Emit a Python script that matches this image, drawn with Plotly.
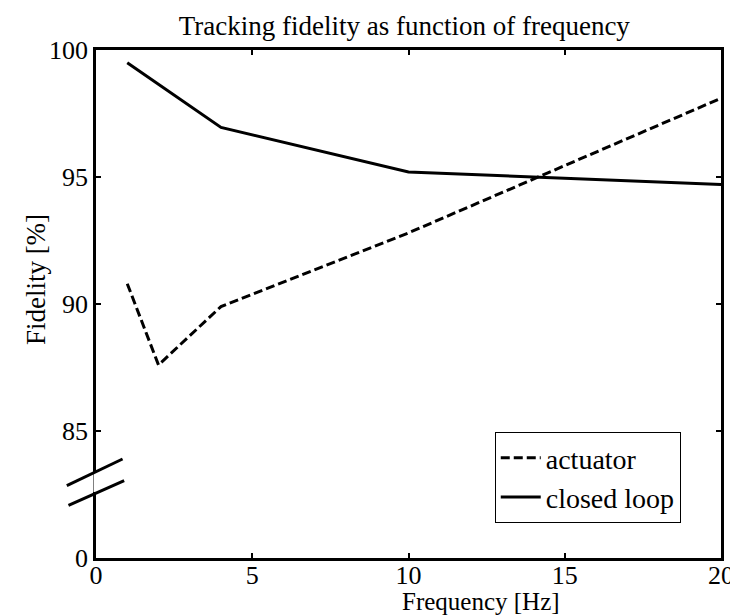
import plotly.graph_objects as go

# ---- data ----
freq = [1, 2, 4, 10, 20]
actuator = [90.8, 87.6, 89.9, 92.8, 98.1]
closed_loop = [99.5, 98.65, 96.95, 95.2, 94.7]

x_ticks = [0, 5, 10, 15, 20]
y_tickvals = [80, 85, 90, 95, 100]
y_ticktext = ["0", "85", "90", "95", "100"]

FONT = "Liberation Serif, Times New Roman, serif"

fig = go.Figure()
fig.add_trace(go.Scatter(x=freq, y=actuator, mode="lines", name="actuator",
                         line=dict(color="black", width=3, dash="9px,4px")))
fig.add_trace(go.Scatter(x=freq, y=closed_loop, mode="lines", name="closed loop",
                         line=dict(color="black", width=3)))

axis_common = dict(showline=True, linecolor="black", linewidth=2.5, mirror="ticks",
                   ticks="inside", ticklen=5, tickwidth=2, tickcolor="black",
                   showgrid=False, zeroline=False,
                   tickfont=dict(family=FONT, size=26, color="black"))

fig.update_layout(
    width=738, height=615,
    margin=dict(l=88, r=14, t=42, b=65),
    paper_bgcolor="white", plot_bgcolor="white",
    font=dict(family=FONT, size=27, color="black"),
    title=dict(text="Tracking fidelity as function of frequency",
               x=0.537, xanchor="center", y=0.972, yanchor="middle",
               font=dict(family=FONT, size=27, color="black")),
    xaxis=dict(range=[0, 20], tickvals=x_ticks, ticklabelstandoff=-8, **axis_common),
    yaxis=dict(range=[80, 100], tickvals=y_tickvals, ticktext=y_ticktext, **axis_common),
    legend=dict(x=0.638, y=0.248, xanchor="left", yanchor="top",
                bordercolor="black", borderwidth=1, bgcolor="white",
                font=dict(family=FONT, size=28, color="black"),
                itemwidth=40, tracegroupgap=0),
    showlegend=True,
)

# axis titles
fig.add_annotation(text="Frequency [Hz]", xref="paper", yref="paper",
                   x=0.6156, y=-0.114, xanchor="center", yanchor="bottom",
                   showarrow=False, font=dict(family=FONT, size=25, color="black"),
                   borderpad=0)
fig.add_annotation(text="Fidelity [%]", xref="paper", yref="paper",
                   x=-0.096, y=0.547, xanchor="center", yanchor="middle", textangle=-90,
                   showarrow=False, font=dict(family=FONT, size=27, color="black"))

# axis break marks
fig.add_shape(type="line", xref="paper", yref="paper", x0=0, x1=0, y0=0.13, y1=0.168,
              line=dict(color="white", width=5), layer="above")
fig.add_shape(type="line", xref="paper", yref="paper", x0=-0.0467, y0=0.1423,
              x1=0.0425, y1=0.1949, line=dict(color="black", width=3), layer="above")
fig.add_shape(type="line", xref="paper", yref="paper", x0=-0.0440, y0=0.1037,
              x1=0.0451, y1=0.1522, line=dict(color="black", width=3), layer="above")

fig.write_html("out.html")
